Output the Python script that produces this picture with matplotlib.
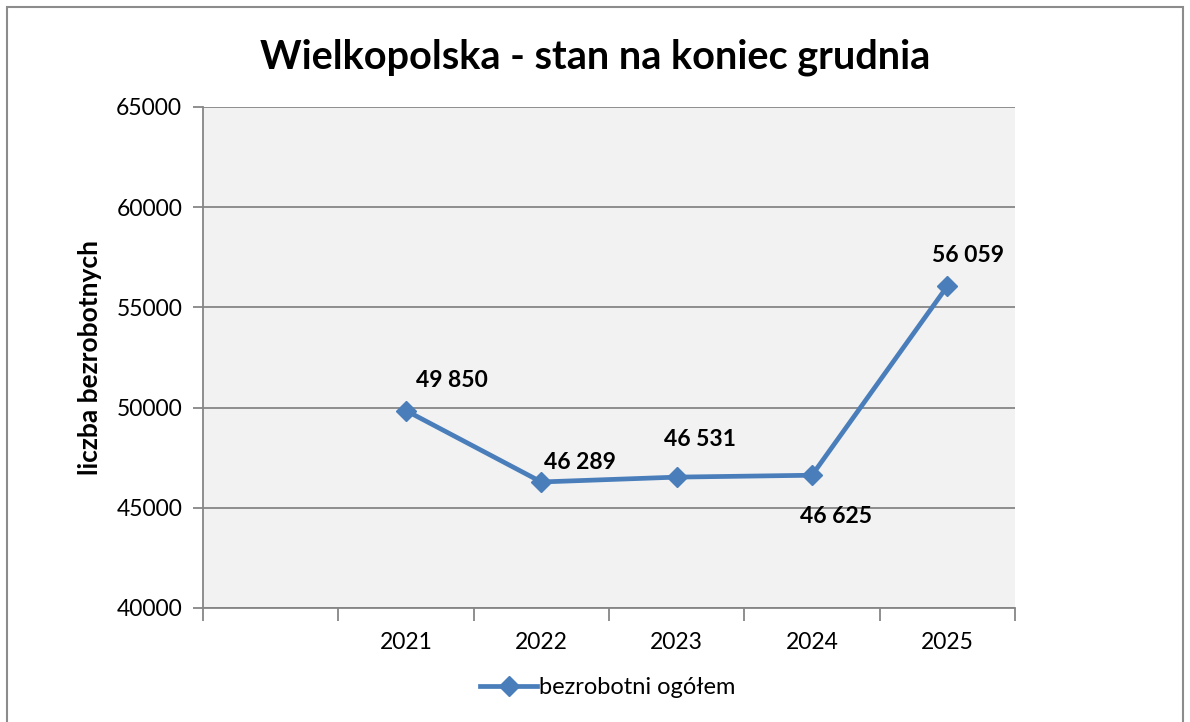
import matplotlib
matplotlib.use("Agg")
import matplotlib.pyplot as plt
from matplotlib.lines import Line2D
from matplotlib.patches import Rectangle

plt.rcParams["font.family"] = ["Lato", "DejaVu Sans"]

# data
categories = ["", "2021", "2022", "2023", "2024", "2025"]
years = ["2021", "2022", "2023", "2024", "2025"]
unemployed = [49850, 46289, 46531, 46625, 56059]
value_labels = ["49 850", "46 289", "46 531", "46 625", "56 059"]
y_ticks = [40000, 45000, 50000, 55000, 60000, 65000]

# label offsets in points (manual placement as in the original)
label_offsets = [(33, 22), (28, 14), (17, 27), (17, -30), (15, 22)]

BLUE = "#4a7ebb"
GRID = "#868686"

fig = plt.figure(figsize=(11.9, 7.22), dpi=100)
fig.patch.set_facecolor("white")
fig.patches.append(Rectangle((7 / 1190, -0.05), 1176 / 1190, 1.05 - 7 / 722,
                             transform=fig.transFigure, fill=False,
                             edgecolor="#8c8c8c", lw=1.5))

ax = fig.add_axes([203 / 1190, 1 - 608 / 722, 812 / 1190, 501 / 722])
ax.set_facecolor("#f2f2f2")

xpos = [categories.index(y) for y in years]
ax.plot(xpos, unemployed, color=BLUE, lw=3.4, marker="D", ms=10,
        label="bezrobotni ogółem", zorder=3, clip_on=False)

for x, v, lab, off in zip(xpos, unemployed, value_labels, label_offsets):
    ax.annotate(lab, (x, v), xytext=off, textcoords="offset points",
                ha="center", va="center", fontsize=16.5, fontweight="bold")

ax.set_ylim(40000, 65000)
ax.set_yticks(y_ticks)
ax.set_yticklabels([str(t) for t in y_ticks], fontsize=16.5)
ax.yaxis.grid(True, color=GRID, lw=1.3)
ax.set_axisbelow(True)

ax.set_xlim(-0.5, len(categories) - 0.5)
ax.set_xticks(range(len(categories)))
ax.set_xticklabels(categories, fontsize=16.5)
ax.tick_params(axis="x", which="major", length=0, pad=17)
ax.set_xticks([i - 0.5 for i in range(len(categories) + 1)], minor=True)
ax.tick_params(axis="x", which="minor", length=9, color=GRID, width=1.3)
ax.tick_params(axis="y", length=7, color=GRID, width=1.3, pad=8)

for s in ["top", "right"]:
    ax.spines[s].set_visible(False)
for s in ["left", "bottom"]:
    ax.spines[s].set_color(GRID)
    ax.spines[s].set_linewidth(1.3)

ax.set_ylabel("liczba bezrobotnych", fontsize=19, fontweight="bold", labelpad=10)
fig.text(0.5, 1 - 57 / 722, "Wielkopolska - stan na koniec grudnia",
         ha="center", va="center", fontsize=28.5, fontweight="bold")

handle = Line2D([], [], color=BLUE, lw=3.4, marker="D", ms=10)
fig.legend([handle], ["bezrobotni ogółem"], loc="center",
           bbox_to_anchor=(0.511, 1 - 688 / 722), frameon=False,
           fontsize=17, handlelength=2.4, handletextpad=0.1)

fig.savefig("out.png", dpi=100)
